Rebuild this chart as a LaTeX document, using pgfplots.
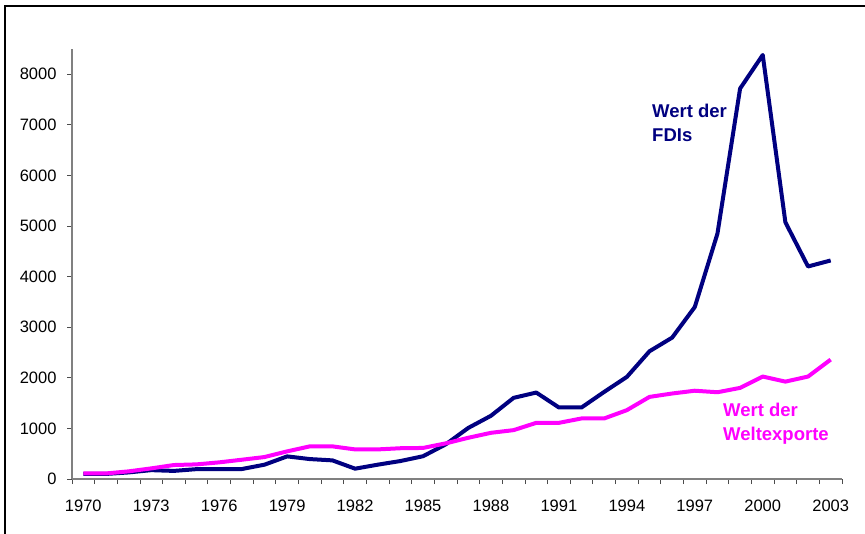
\documentclass[border=0pt]{standalone}
\usepackage{pgfplots}
\pgfplotsset{compat=1.18}
\usepackage{fontspec}
\setmainfont{Liberation Sans}
\definecolor{fdi}{RGB}{0,0,128}
\definecolor{exp}{RGB}{255,0,255}
\definecolor{axgray}{RGB}{128,128,128}
\begin{document}
\begin{tikzpicture}
\path[use as bounding box] (0pt,0pt) rectangle (865pt,-534pt);
\draw[line width=1.5pt,black] (5pt,-534pt) -- (5pt,-6pt) -- (865pt,-6pt);
\begin{axis}[
  at={(72pt,-479pt)}, anchor=south west,
  scale only axis, width=770pt, height=430pt,
  xmin=1969.5, xmax=2003.5, ymin=0, ymax=8500,
  axis x line*=bottom, axis y line*=left,
  axis line style={axgray, line width=1.2pt, -},
  xtick={1970,1973,...,2003},
  minor xtick={1969.5,1970.5,...,2003.5},
  ytick={0,1000,...,8000},
  tick align=outside,
  major tick length=5pt, minor tick length=5pt,
  every tick/.style={black!70, line width=0.8pt},
  xtick style={draw=none},
  minor x tick style={draw=black!70},
  /pgf/number format/1000 sep={},
  /pgf/number format/assume math mode=true,
  ticklabel style={font=\fontsize{16.5}{19}\selectfont},
  xticklabel style={yshift=-12pt},
  yticklabel style={xshift=-7pt},
  clip=false,
]
\addplot[fdi, line width=4pt, line join=round] coordinates {
(1970,100) (1971,100) (1972,130) (1973,175) (1974,160) (1975,195) (1976,197) (1977,197)
(1978,283) (1979,447) (1980,394) (1981,368) (1982,204) (1983,283) (1984,355) (1985,450)
(1986,684) (1987,1010) (1988,1250) (1989,1604) (1990,1709) (1991,1414) (1992,1414) (1993,1722)
(1994,2018) (1995,2525) (1996,2795) (1997,3400) (1998,4850) (1999,7718) (2000,8382)
(2001,5075) (2002,4201) (2003,4320)
};
\addplot[exp, line width=4pt, line join=round] coordinates {
(1970,110) (1971,110) (1972,151) (1973,210) (1974,276) (1975,289) (1976,329) (1977,381)
(1978,434) (1979,546) (1980,645) (1981,645) (1982,585) (1983,585) (1984,608) (1985,614)
(1986,704) (1987,815) (1988,913) (1989,966) (1990,1110) (1991,1110) (1992,1197) (1993,1197)
(1994,1361) (1995,1623) (1996,1690) (1997,1745) (1998,1715) (1999,1801) (2000,2025)
(2001,1925) (2002,2025) (2003,2360)
};
\end{axis}
\node[anchor=base west, align=left, inner sep=0pt, text=fdi,
  font=\fontsize{18.5}{24}\selectfont\bfseries] at (652pt,-142pt) {Wert der\\FDIs};
\node[anchor=base west, align=left, inner sep=0pt, text=exp,
  font=\fontsize{18.5}{23.5}\selectfont\bfseries] at (723pt,-440pt) {Wert der\\Weltexporte};
\end{tikzpicture}
\end{document}
